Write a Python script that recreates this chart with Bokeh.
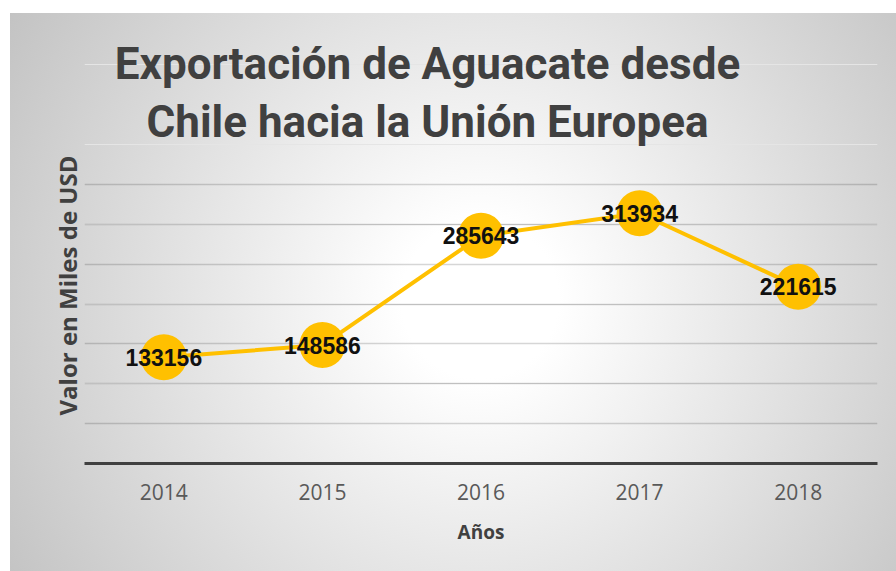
from bokeh.plotting import figure
from bokeh.models import ColumnDataSource, Label, Title, Grid, FixedTicker, FactorRange, Range1d
from bokeh.core.properties import value
from bokeh.embed import file_html
from bokeh.resources import INLINE

# ---- data ----
years = ["2014", "2015", "2016", "2017", "2018"]
values = [133156, 148586, 285643, 313934, 221615]
title_lines = ["Exportación de Aguacate desde", "Chile hacia la Unión Europea"]
y_title = "Valor en Miles de USD"
x_title = "Años"
y_grid_ticks = [50000, 100000, 150000, 200000, 250000, 300000, 350000]
y_max = 350000

# ---- layout (pixels) ----
W, H = 886, 558
border_left, border_right, border_bottom = 74, 19, 108
frame_h = H - border_bottom          # frame spans the full height above the axis
plot_h = 279                          # pixel height used by 0..y_max
y_end = y_max * frame_h / plot_h

src = ColumnDataSource(dict(x=years, y=values, label=[str(v) for v in values]))

p = figure(width=W, height=H,
           x_range=FactorRange(*years), y_range=Range1d(0, y_end),
           y_axis_location=None, title=None,
           output_backend="svg", toolbar_location=None,
           min_border_left=border_left, min_border_right=border_right,
           min_border_top=0, min_border_bottom=border_bottom)
p.margin = (13, 0, 0, 10)
p.border_fill_color = None
p.background_fill_color = None
p.outline_line_color = None
p.styles = {"background": "radial-gradient(circle 560px at 470px 287px, #ffffff 0%, #ffffff 14%, #c2c2c2 100%)"}

p.xgrid.visible = False
grid = Grid(dimension=1, ticker=FixedTicker(ticks=y_grid_ticks),
            grid_line_color="#000000", grid_line_alpha=0.16, grid_line_width=1.5)
p.add_layout(grid)

ax = p.xaxis[0]
ax.axis_line_color = "#404040"
ax.axis_line_width = 3
ax.major_tick_line_color = None
ax.minor_tick_line_color = None
ax.major_label_text_font = "Open Sans"
ax.major_label_text_font_size = "21px"
ax.major_label_text_color = "#595959"
ax.major_label_standoff = 14
ax.axis_label = x_title
ax.axis_label_text_font = "Open Sans"
ax.axis_label_text_font_style = "bold"
ax.axis_label_text_font_size = "19px"
ax.axis_label_text_color = "#404040"
ax.axis_label_standoff = 16

p.line(x="x", y="y", source=src, line_color="#FFC000", line_width=4)
p.scatter(x="x", y="y", source=src, size=46, fill_color="#FFC000", line_color=None)
p.text(x="x", y="y", text="label", source=src,
       text_font=value("Liberation Sans"), text_font_style="bold",
       text_font_size="23px", text_color="#111111",
       text_align="center", text_baseline="middle")

# chart title (screen units = pixels from the frame's bottom-left)
for txt, yy in zip(title_lines, [400, 342]):
    p.add_layout(Label(x=343, y=yy, x_units="screen", y_units="screen", text=txt,
                       text_font="Roboto", text_font_style="bold",
                       text_font_size="44px", text_color="#404040",
                       text_align="center", text_baseline="middle"))

# y axis title
p.add_layout(Title(text=y_title, align="left", offset=48, vertical_align="middle",
                   standoff=0, text_font="Open Sans", text_font_style="bold",
                   text_font_size="24px", text_color="#404040"), "left")

open("out.html", "w").write(file_html(p, INLINE))
